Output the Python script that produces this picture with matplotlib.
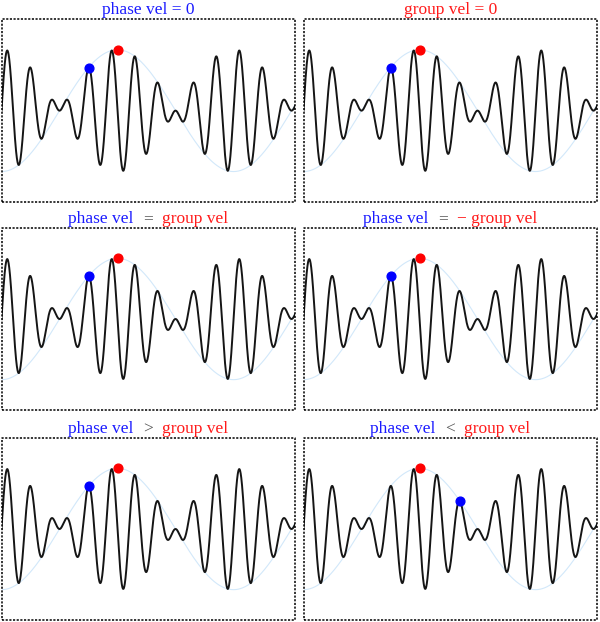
import numpy as np
import matplotlib
matplotlib.use('Agg')
import matplotlib.pyplot as plt
from matplotlib.offsetbox import TextArea, HPacker, AnchoredOffsetbox

plt.rcParams['font.family'] = ['Liberation Serif', 'DejaVu Serif']

# wave parameters (envelope phase units, group centre at 0)
envelope_k = 1.0
carrier_k = 10.0
carrier_shift = np.pi / 2
x_range = [-np.pi, 1.53 * np.pi]

# dot positions per panel (multiples of pi)
group_dot = [0.0, 0.0, 0.0, 0.0, 0.0, 0.0]
phase_dot = [-0.25, -0.25, -0.25, -0.25, -0.25, 0.35]

BLUE = '#1a1aff'
RED = '#ff1a1a'
GREY = '#555555'

# titles as (text, colour) pieces
titles = [
    [('phase vel = 0', BLUE)],
    [('group vel = 0', RED)],
    [('phase vel', BLUE), ('=', GREY), ('group vel', RED)],
    [('phase vel', BLUE), ('=', GREY), ('\u2212 group vel', RED)],
    [('phase vel', BLUE), ('>', GREY), ('group vel', RED)],
    [('phase vel', BLUE), ('<', GREY), ('group vel', RED)],
]

# axes boxes in pixels (left, top, right, bottom) of a 600x622 figure
col_px = [(1.5, 295.0), (303.5, 597.0)]
row_px = [(19.3, 202.0), (228.0, 410.0), (438.0, 620.0)]

W, H = 600, 622
fig = plt.figure(figsize=(W / 100, H / 100), dpi=100)

x = np.linspace(x_range[0], x_range[1], 3000)
env = np.cos(envelope_k * x)
wave = env * np.cos(carrier_k * x + carrier_shift)

for i in range(6):
    r, c = divmod(i, 2)
    l, rt = col_px[c]
    t, b = row_px[r]
    ax = fig.add_axes([l / W, 1 - b / H, (rt - l) / W, (b - t) / H])
    ax.plot(x, env, color='#d2e8fa', lw=0.8, zorder=1)
    ax.plot(x, wave, color='#151515', lw=1.4, zorder=2)
    gx = group_dot[i] * np.pi
    px = phase_dot[i] * np.pi
    ax.plot([gx], [np.cos(gx)], 'o', color='red', ms=6.3, zorder=3)
    ax.plot([px], [np.cos(px)], 'o', color='blue', ms=6.3, zorder=3)
    ax.set_xlim(x_range)
    ax.set_ylim(-1.5, 1.5)
    ax.set_xticks([])
    ax.set_yticks([])
    for s in ax.spines.values():
        s.set_visible(False)
    # dotted frame
    ax.plot([0, 1, 1, 0, 0], [0, 0, 1, 1, 0], transform=ax.transAxes,
            color='black', lw=1.1, linestyle=(0, (1.4, 1.0)),
            clip_on=False, zorder=4)

    parts = [TextArea(txt, textprops=dict(color=col, fontsize=12.5))
             for txt, col in titles[i]]
    box = HPacker(children=parts, align='baseline', pad=0, sep=7)
    anchored = AnchoredOffsetbox(loc='lower center', child=box, pad=0,
                                 borderpad=0, frameon=False,
                                 bbox_to_anchor=(0.5, 1.005),
                                 bbox_transform=ax.transAxes)
    ax.add_artist(anchored)

fig.savefig('out.png', dpi=100)
